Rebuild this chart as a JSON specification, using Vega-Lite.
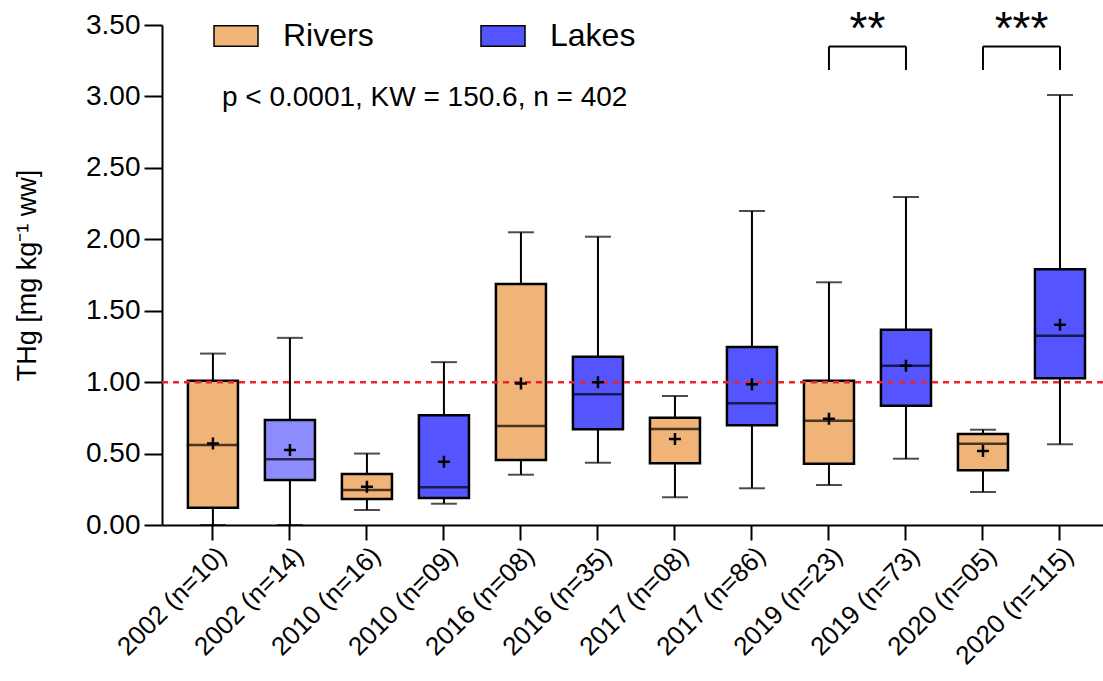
{
  "$schema": "https://vega.github.io/schema/vega-lite/v6.json",
  "width": 941,
  "height": 500,
  "autosize": {"type": "none"},
  "padding": {"left": 162, "top": 25, "right": 0, "bottom": 156},
  "background": "white",
  "config": {
    "font": "Liberation Sans",
    "view": {"stroke": null},
    "axis": {"grid": false, "domainColor": "black", "domainWidth": 2, "tickColor": "black", "tickWidth": 2, "labelColor": "black", "titleColor": "black"}
  },
  "datasets": {
    "boxes": [
      {"cat": "2002 (n=10)", "type": "Rivers", "min": 0.0, "q1": 0.12, "med": 0.56, "q3": 1.01, "max": 1.2, "mean": 0.57},
      {"cat": "2002 (n=14)", "type": "LakesLight", "min": 0.0, "q1": 0.315, "med": 0.46, "q3": 0.735, "max": 1.31, "mean": 0.525},
      {"cat": "2010 (n=16)", "type": "Rivers", "min": 0.105, "q1": 0.182, "med": 0.245, "q3": 0.357, "max": 0.5, "mean": 0.268},
      {"cat": "2010 (n=09)", "type": "Lakes", "min": 0.149, "q1": 0.189, "med": 0.264, "q3": 0.768, "max": 1.14, "mean": 0.443},
      {"cat": "2016 (n=08)", "type": "Rivers", "min": 0.352, "q1": 0.455, "med": 0.693, "q3": 1.687, "max": 2.049, "mean": 0.99},
      {"cat": "2016 (n=35)", "type": "Lakes", "min": 0.436, "q1": 0.67, "med": 0.915, "q3": 1.178, "max": 2.018, "mean": 0.999},
      {"cat": "2017 (n=08)", "type": "Rivers", "min": 0.194, "q1": 0.432, "med": 0.672, "q3": 0.751, "max": 0.903, "mean": 0.602},
      {"cat": "2017 (n=86)", "type": "Lakes", "min": 0.257, "q1": 0.698, "med": 0.852, "q3": 1.246, "max": 2.198, "mean": 0.985},
      {"cat": "2019 (n=23)", "type": "Rivers", "min": 0.28, "q1": 0.429, "med": 0.73, "q3": 1.01, "max": 1.699, "mean": 0.744},
      {"cat": "2019 (n=73)", "type": "Lakes", "min": 0.464, "q1": 0.835, "med": 1.115, "q3": 1.367, "max": 2.296, "mean": 1.115},
      {"cat": "2020 (n=05)", "type": "Rivers", "min": 0.231, "q1": 0.383, "med": 0.569, "q3": 0.637, "max": 0.667, "mean": 0.518},
      {"cat": "2020 (n=115)", "type": "Lakes", "min": 0.565, "q1": 1.027, "med": 1.325, "q3": 1.79, "max": 3.01, "mean": 1.402}
    ],
    "brackets": [
      {"x1": "2019 (n=23)", "x2": "2019 (n=73)", "ytop": 3.35, "ystar": 3.37, "label": "**"},
      {"x1": "2020 (n=05)", "x2": "2020 (n=115)", "ytop": 3.35, "ystar": 3.37, "label": "***"}
    ],
    "legs": [
      {"cat": "2019 (n=23)", "ybot": 3.185, "ytop": 3.35},
      {"cat": "2019 (n=73)", "ybot": 3.185, "ytop": 3.35},
      {"cat": "2020 (n=05)", "ybot": 3.185, "ytop": 3.35},
      {"cat": "2020 (n=115)", "ybot": 3.185, "ytop": 3.35}
    ],
    "note": [{"cat": "2002 (n=10)", "y": 2.99, "text": "p < 0.0001, KW = 150.6, n = 402"}],
    "ref": [{"y": 1}]
  },
  "layer": [
    {
      "data": {"name": "boxes"},
      "mark": {"type": "rule", "color": "black", "strokeWidth": 2},
      "encoding": {
        "x": {"field": "cat", "type": "nominal", "scale": {"domain": ["2002 (n=10)", "2002 (n=14)", "2010 (n=16)", "2010 (n=09)", "2016 (n=08)", "2016 (n=35)", "2017 (n=08)", "2017 (n=86)", "2019 (n=23)", "2019 (n=73)", "2020 (n=05)", "2020 (n=115)"], "paddingInner": 0.35, "paddingOuter": 0.285, "align": 0.59},
          "axis": {"title": null, "labelAngle": -45, "labelFontSize": 26, "tickSize": 15, "labelPadding": 2, "tickBand": "center"}},
        "y": {"field": "min", "type": "quantitative", "scale": {"domain": [0, 3.5], "nice": false, "zero": true},
          "axis": {"title": "THg [mg kg⁻¹  ww]", "values": [0, 0.5, 1, 1.5, 2, 2.5, 3, 3.5], "format": ".2f", "labelFontSize": 28, "tickSize": 18, "labelPadding": 4, "titleFontSize": 27, "titleFontWeight": "normal", "titlePadding": 44}},
        "y2": {"field": "max"}
      }
    },
    {
      "data": {"name": "boxes"},
      "mark": {"type": "tick", "color": "black", "size": 26, "thickness": 2},
      "encoding": {
        "x": {"field": "cat", "type": "nominal"},
        "y": {"field": "max", "type": "quantitative"}
      }
    },
    {
      "data": {"name": "boxes"},
      "mark": {"type": "tick", "color": "black", "size": 26, "thickness": 2},
      "encoding": {
        "x": {"field": "cat", "type": "nominal"},
        "y": {"field": "min", "type": "quantitative"}
      }
    },
    {
      "data": {"name": "boxes"},
      "mark": {"type": "bar", "stroke": "black", "strokeWidth": 2.5, "opacity": 1},
      "encoding": {
        "x": {"field": "cat", "type": "nominal"},
        "y": {"field": "q1", "type": "quantitative"},
        "y2": {"field": "q3"},
        "fill": {"field": "type", "type": "nominal",
          "scale": {"domain": ["Rivers", "Lakes", "LakesLight"], "range": ["#F0B478", "#5555FF", "#8C8CFF"]},
          "legend": {"orient": "none", "legendX": 51, "legendY": -12, "direction": "horizontal", "title": null, "values": ["Rivers", "Lakes"],
            "symbolType": "M-1,-0.47L1,-0.47L1,0.47L-1,0.47Z", "symbolSize": 1936, "symbolStrokeColor": "black", "symbolStrokeWidth": 1.5, "symbolOpacity": 1,
            "labelFontSize": 32, "labelFont": "Liberation Sans", "labelColor": "black", "labelOffset": 24, "columnPadding": 104, "labelLimit": 300}}
      }
    },
    {
      "data": {"name": "ref"},
      "mark": {"type": "rule", "color": "#E8242C", "strokeWidth": 2.5, "strokeDash": [6, 5]},
      "encoding": {"y": {"field": "y", "type": "quantitative"}}
    },
    {
      "data": {"name": "boxes"},
      "mark": {"type": "tick", "color": "black", "size": 50, "thickness": 2.5},
      "encoding": {
        "x": {"field": "cat", "type": "nominal"},
        "y": {"field": "med", "type": "quantitative"}
      }
    },
    {
      "data": {"name": "boxes"},
      "mark": {"type": "point", "shape": "M-1,0L1,0M0,-1L0,1", "size": 144, "filled": false, "stroke": "black", "strokeWidth": 2.5, "opacity": 1},
      "encoding": {
        "x": {"field": "cat", "type": "nominal"},
        "y": {"field": "mean", "type": "quantitative"}
      }
    },
    {
      "data": {"name": "brackets"},
      "mark": {"type": "rule", "color": "black", "strokeWidth": 2},
      "encoding": {
        "x": {"field": "x1", "type": "nominal"},
        "x2": {"field": "x2"},
        "y": {"field": "ytop", "type": "quantitative"}
      }
    },
    {
      "data": {"name": "legs"},
      "mark": {"type": "rule", "color": "black", "strokeWidth": 2},
      "encoding": {
        "x": {"field": "cat", "type": "nominal"},
        "y": {"field": "ybot", "type": "quantitative"},
        "y2": {"field": "ytop"}
      }
    },
    {
      "data": {"name": "brackets"},
      "mark": {"type": "text", "fontSize": 46, "fontWeight": "normal", "baseline": "alphabetic", "align": "center", "color": "black"},
      "encoding": {
        "x": {"field": "x1", "type": "nominal", "bandPosition": 1.27},
        "y": {"field": "ystar", "type": "quantitative"},
        "text": {"field": "label"}
      }
    },
    {
      "data": {"name": "note"},
      "mark": {"type": "text", "fontSize": 28, "baseline": "middle", "align": "left", "dx": 9, "color": "black"},
      "encoding": {
        "x": {"field": "cat", "type": "nominal", "bandPosition": 0.5},
        "y": {"field": "y", "type": "quantitative"},
        "text": {"field": "text"}
      }
    }
  ]
}
